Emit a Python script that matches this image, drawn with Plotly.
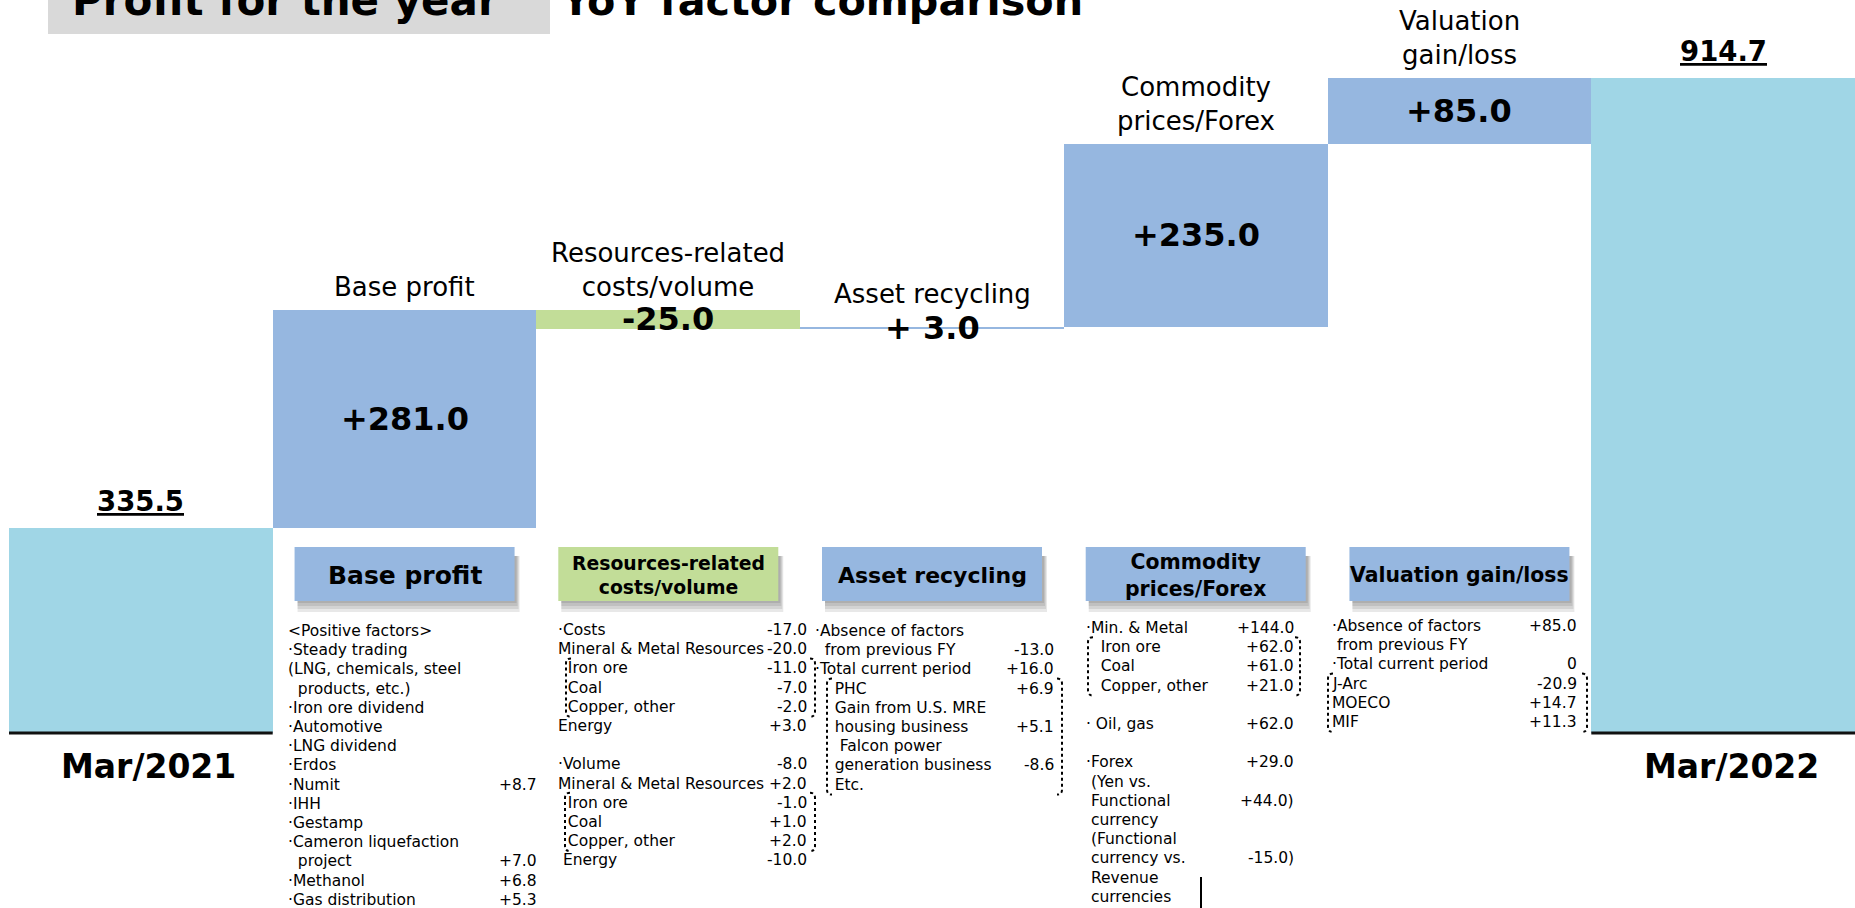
import plotly.graph_objects as go

# ---- bar data ----
steps = ["Mar/2021", "Base profit", "Resources-related<br>costs/volume", "Asset recycling",
         "Commodity<br>prices/Forex", "Valuation<br>gain/loss", "Mar/2022"]
measures = ["absolute", "relative", "relative", "relative", "relative", "relative", "total"]
amounts = [335.5, 281.0, -25.0, 3.0, 235.0, 85.0, 0]
total_labels = ["335.5", "914.7"]
delta_labels = ["+281.0", "-25.0", "+ 3.0", "+235.0", "+85.0"]
header_titles = ["Base profit", "Resources-related<br>costs/volume", "Asset recycling",
                 "Commodity<br>prices/Forex", "Valuation gain/loss"]

# ---- factor details (label, value) ----
NB = "\u00a0"
base_profit_detail = [
    ("&lt;Positive factors&gt;", ""),
    ("·Steady trading", ""),
    ("(LNG, chemicals, steel", ""),
    (NB * 2 + "products, etc.)", ""),
    ("·Iron ore dividend", ""),
    ("·Automotive", ""),
    ("·LNG dividend", ""),
    ("·Erdos", ""),
    ("·Numit", "+8.7"),
    ("·IHH", ""),
    ("·Gestamp", ""),
    ("·Cameron liquefaction", ""),
    (NB * 2 + "project", "+7.0"),
    ("·Methanol", "+6.8"),
    ("·Gas distribution", "+5.3"),
]
resources_detail = [
    ("·Costs", "-17.0"),
    ("Mineral & Metal Resources", "-20.0"),
    (NB * 2 + "Iron ore", "-11.0"),
    (NB * 2 + "Coal", "-7.0"),
    (NB * 2 + "Copper, other", "-2.0"),
    ("Energy", "+3.0"),
    ("", ""),
    ("·Volume", "-8.0"),
    ("Mineral & Metal Resources", "+2.0"),
    (NB * 2 + "Iron ore", "-1.0"),
    (NB * 2 + "Coal", "+1.0"),
    (NB * 2 + "Copper, other", "+2.0"),
    (NB + "Energy", "-10.0"),
]
asset_detail = [
    ("·Absence of factors", ""),
    (NB * 2 + "from previous FY", "-13.0"),
    ("·Total current period", "+16.0"),
    (NB * 4 + "PHC", "+6.9"),
    (NB * 4 + "Gain from U.S. MRE", ""),
    (NB * 4 + "housing business", "+5.1"),
    (NB * 5 + "Falcon power", ""),
    (NB * 4 + "generation business", "-8.6"),
    (NB * 4 + "Etc.", ""),
]
commodity_detail = [
    ("·Min. & Metal", "+144.0"),
    (NB * 3 + "Iron ore", "+62.0"),
    (NB * 3 + "Coal", "+61.0"),
    (NB * 3 + "Copper, other", "+21.0"),
    ("", ""),
    ("·" + NB + "Oil, gas", "+62.0"),
    ("", ""),
    ("·Forex", "+29.0"),
    (NB + "(Yen vs.", ""),
    (NB + "Functional", "+44.0)"),
    (NB + "currency", ""),
    (NB + "(Functional", ""),
    (NB + "currency vs.", "-15.0)"),
    (NB + "Revenue", ""),
    (NB + "currencies", ""),
]
valuation_detail = [
    ("·Absence of factors", "+85.0"),
    (NB + "from previous FY", ""),
    ("·Total current period", "0"),
    ("J-Arc", "-20.9"),
    ("MOECO", "+14.7"),
    ("MIF", "+11.3"),
]

# ---- colours / fonts ----
C_TOTAL = "#a0d6e6"
C_UP = "#96b7e0"
C_DOWN = "#c2dd98"
FONT = "DejaVu Sans"

# ---- page geometry (pixels) ----
W, H = 1855, 908
ML, MB = 9, 175
PW, PH = W - ML, H - MB
CAT_W = PW / len(steps)


def px_x(px):
    return (px - ML) / PW


def px_y(py):
    return (PH - py) / PH


fig = go.Figure(go.Waterfall(
    x=steps,
    y=amounts,
    measure=measures,
    connector=dict(visible=False),
    increasing=dict(marker=dict(color=C_UP, line=dict(width=0))),
    decreasing=dict(marker=dict(color=C_DOWN, line=dict(width=0))),
    totals=dict(marker=dict(color=C_TOTAL, line=dict(width=0))),
    hoverinfo="skip",
))

# running levels of each bar
bars = []
level = 0
for m, a in zip(measures, amounts):
    if m == "absolute":
        bars.append((0, a))
        level = a
    elif m == "relative":
        bars.append((level, level + a))
        level += a
    else:
        bars.append((0, level))

annotations = []
shapes = []


def note(text, x, y, size, xanchor="center", yanchor="middle", xref="paper", yref="paper",
         align="center", yshift=0):
    annotations.append(dict(text=text, x=x, y=y, xref=xref, yref=yref, xanchor=xanchor,
                            yanchor=yanchor, align=align, showarrow=False, yshift=yshift,
                            font=dict(family=FONT, size=size, color="black")))


# totals above first / last bars
for i, lab in zip([0, len(steps) - 1], total_labels):
    note("<b><u>%s</u></b>" % lab, i, bars[i][1], 27.5, yanchor="bottom", xref="x", yref="y",
         yshift=9)

# deltas inside bars and step names above them
for k, lab in enumerate(delta_labels):
    i = k + 1
    lo, hi = sorted(bars[i])
    note("<b>%s</b>" % lab, i, (lo + hi) / 2, 32, xref="x", yref="y")
    note(steps[i], i, hi, 26, yanchor="bottom", xref="x", yref="y",
         yshift=16 if i == 3 else 6)

# period names under the baseline
for i in [0, len(steps) - 1]:
    note("<b>%s</b>" % steps[i], i + 0.03, px_y(766), 33, xref="x")
    shapes.append(dict(type="line", xref="x", yref="paper", x0=i - 0.5, x1=i + 0.5,
                       y0=0, y1=0, line=dict(color="#111111", width=3)))

# header boxes with a soft shadow
header_sizes = [25, 18.8, 22, 20.4, 20.4]
header_colors = [C_UP, C_DOWN, C_UP, C_UP, C_UP]
half = 110 / CAT_W
for k, title in enumerate(header_titles):
    i = k + 1
    for s in range(4):
        shapes.append(dict(type="rect", xref="x", yref="paper",
                           x0=i - half + 3 / CAT_W, x1=i + half + (2 + s) / CAT_W,
                           y0=px_y(556), y1=px_y(603 + 3 * s),
                           fillcolor="rgba(0,0,0,0.09)", line=dict(width=0)))
    shapes.append(dict(type="rect", xref="x", yref="paper", x0=i - half, x1=i + half,
                       y0=px_y(547), y1=px_y(601), fillcolor=header_colors[k],
                       line=dict(width=0)))
    note("<b>%s</b>" % title, i, px_y(575), header_sizes[k], xref="x")

# detail text blocks: (items, left px, right px, first line px)
STEP = 19.2
blocks = [
    (base_profit_detail, 286, 539, 631),
    (resources_detail, 556, 809, 630),
    (asset_detail, 813, 1056, 631),
    (commodity_detail, 1084, 1296, 628),
    (valuation_detail, 1330, 1579, 626),
]
for items, left, right, y0 in blocks:
    for n, (lab, val) in enumerate(items):
        yy = px_y(y0 + n * STEP)
        if lab:
            note(lab, px_x(left), yy, 15.5, xanchor="left", align="left")
        if val:
            note(val, px_x(right), yy, 15.5, xanchor="right", align="right")


# dotted brackets: (block, first line, last line, left px, right px)
def bracket(block, first, last, xl, xr):
    y0 = blocks[block][3]
    yt = y0 + first * STEP - 10
    yb = y0 + last * STEP + 10
    for xa, d in [(xl, 5), (xr, -5)]:
        path = "M {a},{t} Q {b},{t} {b},{t2} L {b},{b2} Q {b},{bb} {a},{bb}".format(
            a=px_x(xa + d), b=px_x(xa), t=px_y(yt), t2=px_y(yt + 5),
            b2=px_y(yb - 5), bb=px_y(yb))
        shapes.append(dict(type="path", xref="paper", yref="paper", path=path,
                           line=dict(color="black", width=2, dash="dot")))


bracket(1, 2, 4, 566, 815)
bracket(1, 9, 11, 565, 815)
bracket(2, 3, 8, 827, 1062)
bracket(3, 1, 3, 1088, 1300)
bracket(4, 3, 5, 1328, 1587)

shapes.append(dict(type="line", xref="paper", yref="paper", x0=px_x(1201), x1=px_x(1201),
                   y0=px_y(877), y1=px_y(912), line=dict(color="black", width=2)))

# page title, cut off at the top edge
shapes.append(dict(type="rect", xref="paper", yref="paper", x0=px_x(48), x1=px_x(550),
                   y0=px_y(34), y1=px_y(-20), fillcolor="#d9d9d9", line=dict(width=0),
                   layer="below"))
note("<b>Profit for the year</b>", px_x(70), px_y(27), 42, xanchor="left", yanchor="bottom")
note("<b>YoY factor comparison</b>", px_x(558), px_y(27), 41.3, xanchor="left",
     yanchor="bottom")

fig.update_layout(
    width=W, height=H,
    margin=dict(l=ML, r=0, t=0, b=MB),
    waterfallgap=0,
    showlegend=False,
    plot_bgcolor="white",
    paper_bgcolor="white",
    xaxis=dict(visible=False, range=[-0.5, len(steps) - 0.5]),
    yaxis=dict(visible=False, range=[71.6, 1015.1]),
    annotations=annotations,
    shapes=shapes,
)

# the page is shown edge to edge, so drop the default body margin
fig.write_html("out.html", config={"displayModeBar": False},
               post_script="document.body.style.margin='0px';")
